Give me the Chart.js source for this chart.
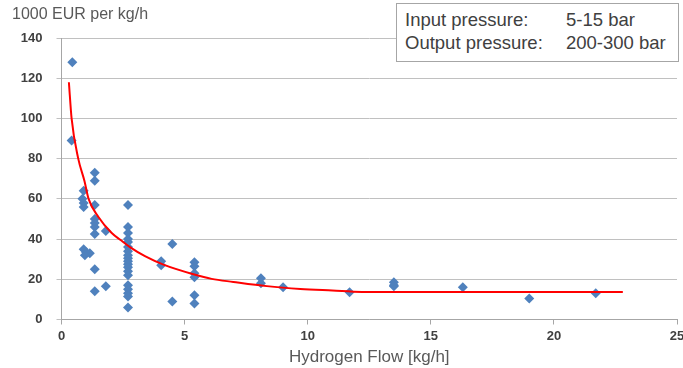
<!DOCTYPE html>
<html>
<head>
<meta charset="utf-8">
<script src="https://cdn.jsdelivr.net/npm/chart.js@4"></script>
<style>
    body { margin: 0; background: #fff; }
    #wrap { position: relative; width: 683px; height: 368px; font-family: "Liberation Sans", Arial, sans-serif; }
    #yCaption { position: absolute; left: 12px; top: 5px; font-size: 16px; color: #595959; }
    #infoBox { position: absolute; left: 396px; top: 3px; width: 283px; height: 59px; background: #fff;
               border: 1px solid #A6A6A6; box-sizing: border-box; font-size: 18.5px; color: #404040; }
    #infoBox div { position: absolute; left: 8px; }
    #infoBox span { position: absolute; left: 161px; white-space: nowrap; }
</style>
</head>
<body>
<div id="wrap">
    <canvas id="costChart"></canvas>
    <div id="yCaption">1000 EUR per kg/h</div>
    <div id="infoBox">
        <div style="top:5px">Input pressure:<span>5-15 bar</span></div>
        <div style="top:28px">Output pressure:<span>200-300 bar</span></div>
    </div>
</div>
<script>
// Measured compressors: hydrogen flow [kg/h] and specific cost [1000 EUR per kg/h]
var flowX = [0.44, 0.41, 0.9, 0.85, 0.9, 0.9, 1.35, 1.35, 1.35, 1.35, 1.35, 1.35, 1.35, 1.35, 1.35,
             1.8, 1.8, 0.9, 1.0, 1.15, 0.95,
             2.7, 2.7, 2.7, 2.7, 2.7, 2.7, 2.7, 2.7, 2.7, 2.7, 2.7, 2.7, 2.7, 2.7, 2.7, 2.7, 2.7, 2.7, 2.7,
             4.05, 4.05, 4.5, 4.5, 5.4, 5.4, 5.4, 5.4, 5.4, 5.4,
             8.1, 8.1, 9.0, 11.7, 13.5, 13.5, 13.5, 16.3, 19.0, 21.7];
var costY = [128, 89, 64, 60, 58, 56, 73, 69, 57, 50, 48, 46, 42.5, 25, 14,
             44, 16.5, 35, 33.5, 33, 32,
             57, 46, 43, 40, 38.5, 36, 34, 32, 30.5, 29, 27.5, 26, 24, 22, 17, 15, 13, 11.5, 6,
             29, 27, 37.5, 9, 28.5, 26.5, 23, 21, 12, 8,
             20.5, 18, 16, 13.5, 18.5, 17, 16.5, 16, 10.5, 13];

// Red trend curve
var curveX = [0.3, 0.41, 0.68, 0.93, 1.1, 1.5, 2.04, 2.4, 2.78, 3.39, 4.14, 5.36, 6.1, 6.98, 8.34, 9.7, 11.0, 12.2, 22.8];
var curveY = [118, 100, 80, 69, 60, 51, 43, 39.5, 36, 31.5, 27.3, 22.5, 20.2, 18.7, 16.6, 15.2, 14.4, 13.7, 13.7];

var xTicks = [0, 5, 10, 15, 20, 25];
var yTicks = [0, 20, 40, 60, 80, 100, 120, 140];

var points = flowX.map(function (x, i) { return { x: x, y: costY[i] }; });
var curve = curveX.map(function (x, i) { return { x: x, y: curveY[i] }; });

var tickFont = { family: '"Liberation Sans", Arial, sans-serif', size: 13, weight: 'bold' };

new Chart(document.getElementById('costChart'), {
    type: 'scatter',
    data: {
        datasets: [{
            data: curve,
            showLine: true,
            borderColor: '#FF0000',
            borderWidth: 2,
            pointRadius: 0,
            cubicInterpolationMode: 'monotone'
        }, {
            data: points,
            pointStyle: 'rectRot',
            pointRadius: 5,
            backgroundColor: '#4F81BD',
            borderWidth: 0
        }]
    },
    options: {
        responsive: true,
        maintainAspectRatio: false,
        animation: false,
        layout: { padding: { top: 38, right: 6 } },
        plugins: { legend: { display: false }, tooltip: { enabled: false } },
        scales: {
            x: {
                type: 'linear',
                min: 0, max: 25,
                afterBuildTicks: function (s) { s.ticks = xTicks.map(function (v) { return { value: v }; }); },
                afterFit: function (s) { s.height = 48.5; s.paddingRight = 0; s.paddingLeft = 0; },
                ticks: { font: tickFont, color: '#404040', padding: 4 },
                grid: { drawOnChartArea: false, tickLength: 5, color: '#A6A6A6' },
                border: { color: '#A6A6A6' },
                title: {
                    display: true, text: 'Hydrogen Flow [kg/h]', color: '#595959',
                    font: { family: '"Liberation Sans", Arial, sans-serif', size: 17 },
                    padding: { top: 2, bottom: 0 }
                }
            },
            y: {
                min: 0, max: 140,
                afterBuildTicks: function (s) { s.ticks = yTicks.map(function (v) { return { value: v }; }); },
                afterFit: function (s) { s.width = 61.5; },
                ticks: { font: tickFont, color: '#404040', padding: 14 },
                grid: { color: '#C0C0C0', tickLength: 5 },
                border: { color: '#A6A6A6' }
            }
        }
    }
});
</script>
</body>
</html>
